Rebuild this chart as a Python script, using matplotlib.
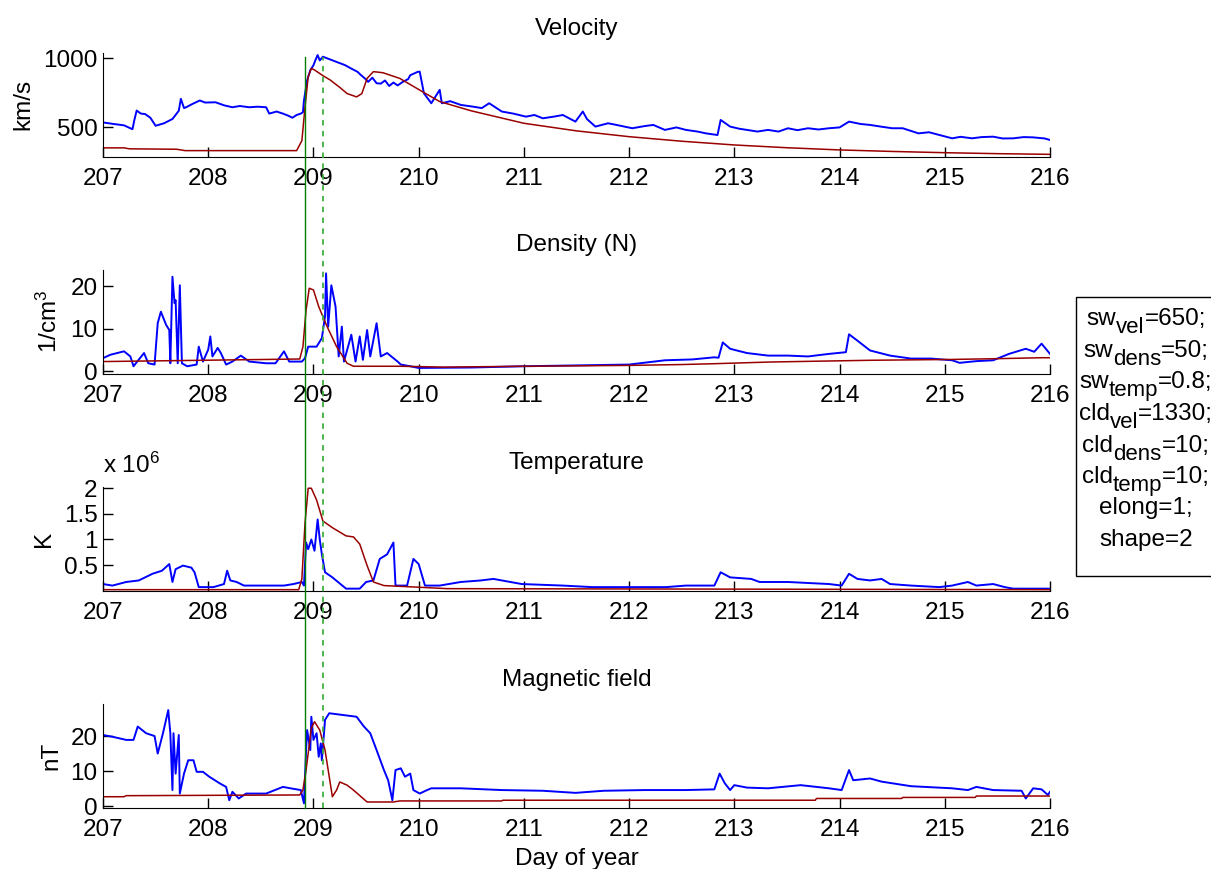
import matplotlib
matplotlib.use('Agg')
import matplotlib.pyplot as plt
import matplotlib.transforms as mtransforms
from matplotlib.patches import Rectangle
from matplotlib.lines import Line2D

plt.rcParams.update({'font.size': 17.5,
                     'font.family': 'Liberation Sans',
                     'mathtext.fontset': 'custom',
                     'mathtext.rm': 'Liberation Sans',
                     'mathtext.it': 'Liberation Sans',
                     'mathtext.bf': 'Liberation Sans'})

# ---- observed (blue) and model (red) series, day of year ----
vel_day = [207.0, 207.1, 207.2, 207.28, 207.3, 207.32, 207.36, 207.4, 207.45, 207.5, 207.58, 207.66,
           207.72, 207.74, 207.77, 207.79, 207.85, 207.92, 207.97, 208.07, 208.15, 208.23, 208.3,
           208.39, 208.47, 208.55, 208.58, 208.65, 208.71, 208.76, 208.8, 208.84, 208.88, 208.9,
           208.91, 208.94, 208.97, 209.0, 209.02, 209.04, 209.06, 209.09, 209.2, 209.3, 209.35,
           209.42, 209.45, 209.49, 209.52, 209.56, 209.6, 209.64, 209.68, 209.72, 209.76, 209.8,
           209.85, 209.9, 209.92, 209.99, 210.01, 210.05, 210.12, 210.2, 210.22, 210.3, 210.4,
           210.51, 210.6, 210.67, 210.79, 210.9, 211.02, 211.1, 211.18, 211.3, 211.37, 211.49,
           211.56, 211.6, 211.68, 211.8, 211.88, 212.03, 212.15, 212.23, 212.34, 212.45, 212.54,
           212.65, 212.73, 212.84, 212.87, 212.96, 213.05, 213.12, 213.22, 213.32, 213.42, 213.51,
           213.6, 213.7, 213.8, 213.9, 214.0, 214.09, 214.2, 214.29, 214.4, 214.5, 214.6, 214.75,
           214.85, 214.95, 215.07, 215.15, 215.26, 215.35, 215.46, 215.55, 215.65, 215.75, 215.84,
           215.95, 216.0]
vel_obs = [536, 525, 515, 487, 560, 622, 600, 597, 570, 512, 530, 561,
           620, 707, 640, 646, 670, 695, 680, 682, 660, 646, 655,
           646, 650, 646, 600, 615, 600, 585, 570, 590, 600, 610,
           695, 841, 914, 950, 990, 1024, 985, 1012, 980, 951, 930,
           902, 880, 854, 830, 860, 820, 817, 840, 800, 825, 804,
           830, 850, 878, 902, 904, 747, 675, 772, 675, 690, 663,
           651, 640, 675, 615, 600, 578, 590, 566, 580, 590, 542,
           615, 560, 506, 530, 518, 494, 510, 518, 482, 500, 482,
           470, 457, 445, 554, 506, 490, 482, 470, 482, 470, 494,
           480, 494, 485, 494, 500, 542, 525, 518, 505, 494, 494, 457,
           465, 445, 421, 432, 421, 430, 433, 420, 421, 430, 428,
           420, 409]
vel_mod_day = [207.0, 207.2, 207.25, 207.7, 207.78, 208.84, 208.89, 208.92, 208.95, 208.98, 209.01,
               209.1, 209.16, 209.25, 209.32, 209.41, 209.46, 209.51, 209.57, 209.66, 209.82, 210.04,
               210.2, 210.5, 211.0, 211.5, 212.0, 212.5, 213.0, 213.5, 214.0, 214.5, 215.0, 215.5, 216.0]
vel_mod = [352, 352, 345, 342, 332, 332, 404, 648, 867, 928, 916,
           870, 843, 790, 745, 721, 745, 855, 904, 896, 855, 757,
           687, 620, 530, 475, 433, 400, 373, 353, 337, 326, 317, 310, 305]

dens_day = [207.0, 207.07, 207.2, 207.26, 207.29, 207.39, 207.43, 207.49, 207.52, 207.55, 207.6,
            207.63, 207.64, 207.66, 207.68, 207.69, 207.71, 207.73, 207.75, 207.8, 207.89, 207.91,
            207.95, 208.0, 208.02, 208.04, 208.09, 208.12, 208.17, 208.23, 208.31, 208.39, 208.55,
            208.64, 208.72, 208.77, 208.89, 208.92, 208.95, 209.03, 209.08, 209.11, 209.12, 209.14,
            209.17, 209.21, 209.24, 209.27, 209.29, 209.36, 209.4, 209.44, 209.47, 209.51, 209.54,
            209.6, 209.64, 209.7, 209.8, 209.83, 209.92, 210.0, 210.5, 211.0, 211.5, 212.0, 212.34,
            212.6, 212.81, 212.85, 212.89, 212.96, 213.12, 213.32, 213.51, 213.7, 213.9, 214.06,
            214.09, 214.17, 214.29, 214.48, 214.68, 214.87, 215.07, 215.14, 215.3, 215.46, 215.61,
            215.77, 215.85, 215.92, 216.0]
dens_obs = [3.1, 3.9, 4.7, 3.5, 1.2, 4.3, 1.9, 1.6, 11.3, 14.0, 10.9,
            9.7, 1.9, 22.2, 16.0, 16.7, 1.9, 20.2, 1.9, 1.2, 1.6, 5.8,
            2.3, 5.1, 8.2, 3.5, 5.5, 4.3, 1.6, 2.3, 3.7, 2.3, 1.9,
            1.9, 4.7, 2.3, 2.3, 3.1, 5.8, 5.8, 7.8, 12.9, 23.0, 10.5,
            20.2, 15.2, 3.5, 10.5, 2.3, 8.6, 2.3, 8.2, 2.7, 9.7, 3.5,
            11.3, 3.5, 4.3, 2.3, 1.6, 1.2, 0.8, 0.9, 1.2, 1.4, 1.6, 2.6,
            2.8, 3.3, 3.2, 6.8, 5.3, 4.3, 3.7, 3.7, 3.5, 4.1, 4.5,
            8.7, 7.2, 4.9, 3.7, 3.0, 3.0, 2.6, 2.0, 2.4, 2.6, 4.1,
            5.3, 4.6, 6.5, 4.1]
dens_mod_day = [207.0, 208.87, 208.9, 208.93, 208.96, 209.0, 209.05, 209.13, 209.22, 209.32, 209.38,
                209.83, 210.24, 211.0, 212.0, 212.5, 212.81, 213.35, 214.29, 215.07, 215.54, 215.92, 216.0]
dens_mod = [2.3, 2.9, 5.8, 14.4, 19.5, 19.1, 15.2, 10.5, 5.8, 1.9, 1.2,
            1.2, 1.0, 1.2, 1.4, 1.6, 1.8, 2.2, 2.6, 2.8, 3.0, 3.2, 3.2]

temp_day = [207.0, 207.09, 207.22, 207.34, 207.47, 207.56, 207.63, 207.66, 207.69, 207.76, 207.84,
            207.87, 207.91, 208.05, 208.15, 208.18, 208.21, 208.27, 208.34, 208.56, 208.72, 208.81,
            208.89, 208.91, 208.93, 208.95, 208.98, 209.01, 209.04, 209.06, 209.08, 209.11, 209.18,
            209.31, 209.44, 209.5, 209.57, 209.63, 209.7, 209.76, 209.78, 209.89, 209.95, 210.0,
            210.06, 210.2, 210.4, 210.59, 210.71, 210.98, 211.37, 211.65, 212.0, 212.35, 212.54,
            212.81, 212.87, 212.96, 213.16, 213.24, 213.51, 213.9, 214.02, 214.09, 214.17, 214.29,
            214.4, 214.48, 214.68, 214.95, 215.07, 215.22, 215.3, 215.46, 215.57, 215.65, 216.0]
temp_obs = [0.13, 0.10, 0.17, 0.20, 0.33, 0.39, 0.52, 0.17, 0.42, 0.49, 0.45,
            0.36, 0.07, 0.07, 0.13, 0.39, 0.20, 0.17, 0.10, 0.10, 0.10, 0.13,
            0.17, 0.10, 0.94, 0.81, 1.00, 0.78, 1.39, 1.00, 0.71, 0.36, 0.26,
            0.04, 0.04, 0.17, 0.20, 0.62, 0.71, 0.94, 0.10, 0.10, 0.62, 0.52,
            0.10, 0.10, 0.17, 0.20, 0.23, 0.13, 0.10, 0.07, 0.07, 0.07, 0.10,
            0.10, 0.36, 0.26, 0.23, 0.17, 0.17, 0.13, 0.10, 0.33, 0.23, 0.20,
            0.23, 0.13, 0.10, 0.07, 0.10, 0.17, 0.10, 0.13, 0.07, 0.04, 0.04]
temp_mod_day = [207.0, 208.86, 208.89, 208.92, 208.95, 208.98, 209.03, 209.09, 209.18, 209.31, 209.38,
                209.44, 209.51, 209.57, 209.67, 209.98, 210.27, 216.0]
temp_mod = [0.02, 0.02, 0.23, 1.32, 2.0, 2.0, 1.77, 1.36, 1.23, 1.07, 1.05,
            0.91, 0.49, 0.17, 0.10, 0.07, 0.04, 0.02]

mag_day = [207.0, 207.09, 207.22, 207.29, 207.33, 207.41, 207.49, 207.52, 207.57, 207.62, 207.64,
           207.66, 207.67, 207.69, 207.72, 207.73, 207.77, 207.81, 207.86, 207.89, 207.95, 208.01,
           208.11, 208.17, 208.2, 208.23, 208.29, 208.36, 208.55, 208.71, 208.8, 208.88, 208.91,
           208.93, 208.94, 208.97, 208.98, 209.0, 209.03, 209.05, 209.07, 209.08, 209.11, 209.15,
           209.28, 209.41, 209.48, 209.54, 209.6, 209.67, 209.71, 209.75, 209.78, 209.83, 209.87,
           209.92, 209.95, 210.01, 210.08, 210.12, 210.4, 210.79, 211.18, 211.49, 211.76, 212.15,
           212.54, 212.81, 212.86, 212.91, 212.96, 213.0, 213.12, 213.32, 213.63, 213.9, 214.02,
           214.09, 214.13, 214.29, 214.4, 214.68, 215.07, 215.22, 215.3, 215.46, 215.73, 215.77,
           215.84, 215.92, 215.98, 216.0]
mag_obs = [20.3, 19.8, 18.9, 18.9, 22.7, 20.8, 20.0, 15.0, 20.8, 27.4, 20.8,
           4.6, 20.8, 9.3, 20.3, 3.6, 9.3, 13.1, 13.1, 9.8, 9.8, 8.4,
           6.5, 5.5, 1.7, 4.1, 2.2, 3.6, 3.6, 5.5, 5.0, 4.6, 0.8,
           16.0, 21.7, 16.0, 25.5, 18.9, 20.8, 14.1, 17.9, 13.1, 24.6, 26.5,
           26.0, 25.5, 22.7, 20.8, 16.0, 10.3, 7.4, 1.7, 10.3, 10.8, 8.4,
           9.3, 4.6, 3.6, 4.6, 5.1, 5.1, 4.6, 4.4, 3.8, 4.4, 4.6,
           4.6, 4.8, 9.3, 6.5, 4.6, 6.0, 5.3, 5.1, 6.0, 5.1, 4.6,
           10.3, 7.4, 7.9, 7.0, 5.7, 5.1, 4.6, 5.5, 4.6, 4.4, 2.2,
           5.1, 4.8, 3.2, 4.1]
mag_mod_day = [207.0, 207.2, 207.22, 208.87, 208.9, 208.93, 208.98, 209.01, 209.06, 209.11, 209.15,
               209.18, 209.22, 209.25, 209.32, 209.38, 209.51, 209.76, 209.82, 210.79, 210.8,
               213.77, 213.78, 214.59, 214.6, 215.29, 215.3, 216.0]
mag_mod = [2.7, 2.7, 3.0, 3.2, 4.6, 10.3, 22.2, 24.1, 21.7, 16.0, 8.4,
           2.7, 4.6, 6.9, 6.0, 4.6, 1.2, 1.2, 1.5, 1.5, 1.7,
           1.7, 2.2, 2.2, 2.5, 2.5, 2.9, 2.9]

shock_day = 208.92
cloud_day = 209.09

titles = ['Velocity', 'Density (N)', 'Temperature', 'Magnetic field']
ylabels = ['km/s', '1/cm$^3$', 'K', 'nT']
yticks = [[500, 1000], [0, 10, 20], [0.5, 1, 1.5, 2], [0, 10, 20]]
ytick_labels = [['500', '1000'], ['0', '10', '20'], ['0.5', '1', '1.5', '2'], ['0', '10', '20']]
ylims = [(288, 1041), (-0.5, 23.9), (0, 2.03), (-0.6, 29.05)]
xticks = list(range(207, 217))

# parameter box lines: (name, subscript, value)
params = [('sw', 'vel', '=650;'), ('sw', 'dens', '=50;'), ('sw', 'temp', '=0.8;'),
          ('cld', 'vel', '=1330;'), ('cld', 'dens', '=10;'), ('cld', 'temp', '=10;'),
          ('elong=1;', '', ''), ('shape=2', '', '')]

W, H = 1211, 869
fig = plt.figure(figsize=(W / 100, H / 100), dpi=100)

series = [(vel_day, vel_obs, vel_mod_day, vel_mod),
          (dens_day, dens_obs, dens_mod_day, dens_mod),
          (temp_day, temp_obs, temp_mod_day, temp_mod),
          (mag_day, mag_obs, mag_mod_day, mag_mod)]
tops = [52.7, 269.5, 486.7, 704.3]

axes = []
for i, (d, obs, md, mod) in enumerate(series):
    ax = fig.add_axes([103 / W, 1 - (tops[i] + 104) / H, 947 / W, 104 / H])
    ax.plot(d, obs, color='#0000ff', lw=1.4)
    ax.plot(md, mod, color='#990000', lw=1.1)
    ax.set_xlim(207, 216)
    ax.set_ylim(*ylims[i])
    ax.set_xticks(xticks)
    ax.set_yticks(yticks[i])
    ax.set_yticklabels(ytick_labels[i])
    ax.spines['top'].set_visible(False)
    ax.spines['right'].set_visible(False)
    ax.tick_params(direction='in', length=7, width=1, labelsize=17.5)
    ax.tick_params(axis='x', pad=8)
    ax.tick_params(axis='y', pad=4)
    ax.set_title(titles[i], fontsize=17.5, pad=13)
    ax.set_ylabel(ylabels[i], fontsize=17.5, labelpad=6)
    axes.append(ax)

axes[3].set_xlabel('Day of year', fontsize=17.5, labelpad=5)
fig.text(103 / W, 1 - 478 / H, 'x 10$^{6}$', fontsize=17.5, ha='left', va='bottom')

# event lines across all panels
trans = mtransforms.blended_transform_factory(axes[0].transData, fig.transFigure)
y_top, y_bot = 1 - 57 / H, 1 - 808 / H
fig.add_artist(Line2D([shock_day, shock_day], [y_bot, y_top], transform=trans,
                      color='#007f00', lw=1.0))
fig.add_artist(Line2D([cloud_day, cloud_day], [y_bot, y_top], transform=trans,
                      color='#3fae3f', lw=1.3, linestyle=(0, (3, 3))))

# parameter box
fig.add_artist(Rectangle((1076 / W, 1 - 576 / H), 140 / W, 279 / H, transform=fig.transFigure,
                         facecolor='white', edgecolor='black', lw=1.0))
renderer = fig.canvas.get_renderer()
cx = 1146
ys = [318, 350, 381, 413, 445, 476, 507, 539]
for (name, sub, val), cy in zip(params, ys):
    parts = [(name, 17.5, 0), (sub, 16, -8), (val, 17.5, 0)]
    widths = []
    for txt, fs, dy in parts:
        if txt:
            t = fig.text(0, 0, txt, fontsize=fs)
            widths.append(t.get_window_extent(renderer).width)
            t.remove()
        else:
            widths.append(0)
    x = cx - sum(widths) / 2
    for (txt, fs, dy), w in zip(parts, widths):
        if txt:
            fig.text(x / W, 1 - (cy + 7 - dy) / H, txt, fontsize=fs, ha='left', va='baseline')
        x += w

fig.savefig('out.png', dpi=100)
